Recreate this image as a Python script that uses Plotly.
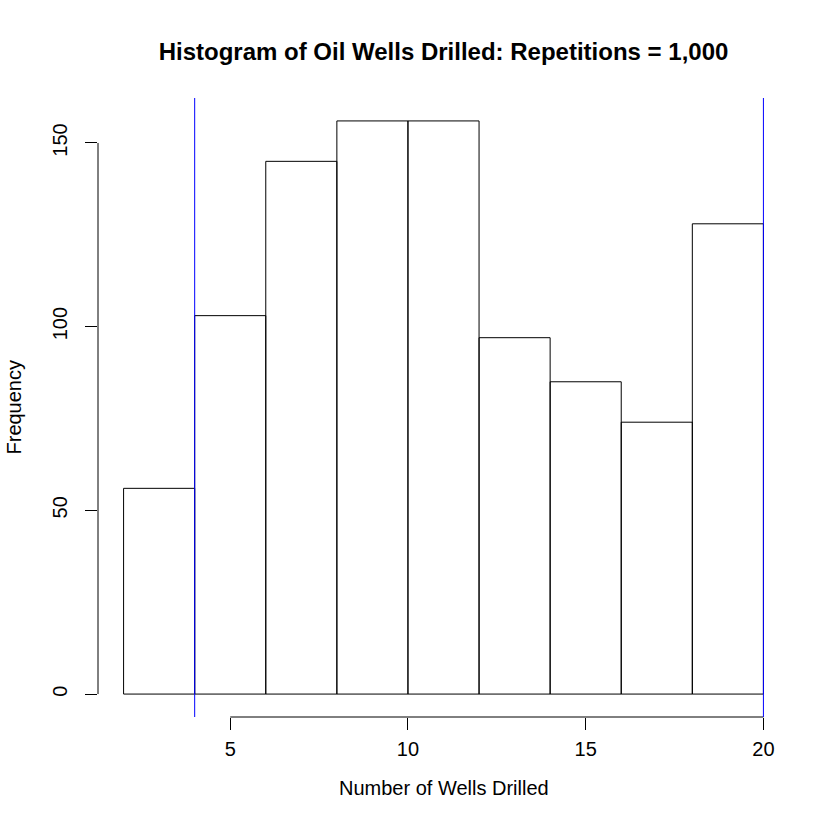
import plotly.graph_objects as go

bin_left = [2, 4, 6, 8, 10, 12, 14, 16, 18]
bin_width = 2
counts = [56, 103, 145, 156, 156, 97, 85, 74, 128]
vlines = [4, 20]
x_ticks = [5, 10, 15, 20]
y_ticks = [0, 50, 100, 150]

title = "Histogram of Oil Wells Drilled: Repetitions = 1,000"
x_title = "Number of Wells Drilled"
y_title = "Frequency"

FONT = "Liberation Sans, Arial, sans-serif"

centers = [b + bin_width / 2 for b in bin_left]

fig = go.Figure()
fig.add_trace(go.Bar(
    x=centers, y=counts, width=bin_width,
    marker=dict(color="rgba(0,0,0,0)", line=dict(color="black", width=1)),
    hoverinfo="skip",
))

xmin, xmax = min(bin_left), max(bin_left) + bin_width
ymax = max(counts)
xpad = 0.04 * (xmax - xmin)
ypad = 0.04 * ymax

fig.update_layout(
    width=840, height=840,
    paper_bgcolor="white", plot_bgcolor="white",
    margin=dict(l=98, r=51, t=98, b=123),
    showlegend=False,
    font=dict(family=FONT, size=20, color="black"),
    title=dict(text="<b>" + title + "</b>", x=0.528, xanchor="center",
               y=1 - 52 / 840, yanchor="middle",
               font=dict(family=FONT, size=24, color="black")),
    xaxis=dict(range=[xmin - xpad, xmax + xpad], tickvals=x_ticks,
               ticks="outside", ticklen=12, tickcolor="black", tickwidth=1,
               ticklabelstandoff=2,
               showgrid=False, zeroline=False, showline=False,
               tickfont=dict(family=FONT, size=20, color="black")),
    yaxis=dict(range=[-ypad, ymax + ypad], tickvals=y_ticks,
               ticks="outside", ticklen=12, tickcolor="black", tickwidth=1,
               tickangle=-90, ticklabelstandoff=10,
               showgrid=False, zeroline=False, showline=False,
               tickfont=dict(family=FONT, size=20, color="black")),
)

# axis lines spanning first to last tick (R style)
fig.add_shape(type="line", xref="x", yref="paper", x0=x_ticks[0], x1=x_ticks[-1],
              y0=0, y1=0, line=dict(color="black", width=1))
fig.add_shape(type="line", xref="paper", yref="y", x0=0, x1=0,
              y0=y_ticks[0], y1=y_ticks[-1], line=dict(color="black", width=1))
for v in vlines:
    fig.add_shape(type="line", xref="x", yref="paper", x0=v, x1=v, y0=0, y1=1,
                  layer="above", line=dict(color="blue", width=1))

fig.add_annotation(text=x_title, xref="paper", yref="paper", x=0.5, y=-71 / 619,
                   xanchor="center", yanchor="middle", showarrow=False,
                   font=dict(family=FONT, size=20, color="black"))
fig.add_annotation(text=y_title, xref="paper", yref="paper", x=-85 / 691, y=0.5,
                   xanchor="center", yanchor="middle", textangle=-90, showarrow=False,
                   font=dict(family=FONT, size=20, color="black"))

fig.write_html("out.html", config={"displayModeBar": False})

# remove the default page margin so the figure sits at the window origin
with open("out.html", "r", encoding="utf-8") as f:
    html = f.read()
html = html.replace("<head>", "<head><style>html,body{margin:0;padding:0;}</style>", 1)
with open("out.html", "w", encoding="utf-8") as f:
    f.write(html)
